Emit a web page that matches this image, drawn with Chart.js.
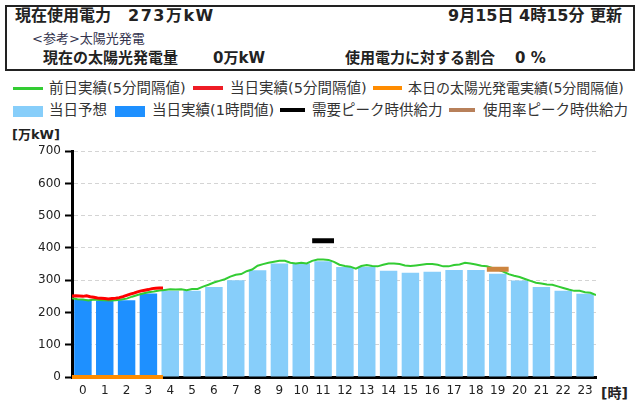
<!DOCTYPE html>
<html lang="ja">
<head>
<meta charset="UTF-8">
<title>電力使用状況</title>
<script src="https://cdn.jsdelivr.net/npm/chart.js"></script>
<style>
  body { margin:0; width:640px; height:420px; position:relative; background:#fff; overflow:hidden;
         font-family:"DejaVu Sans","Noto Sans CJK JP",sans-serif; color:#222; }
  .t { position:absolute; white-space:nowrap; }
  #box { position:absolute; left:5px; top:5px; width:626px; height:62px; border:2px solid #222; }
  .big { font-size:16px; line-height:16px; font-weight:bold; }
  .mid { font-size:15px; line-height:15px; font-weight:bold; }
  .small { font-size:13px; line-height:13px; color:#33334d; }
  .lg { font-size:14.5px; line-height:15px; color:#333; }
  .sw { position:absolute; }
  #chartBox { position:absolute; left:0; top:140px; width:640px; height:262px; }
</style>
</head>
<body>
<div id="box"></div>
<span class="t big" style="left:15px;top:8px">現在使用電力</span>
<span class="t big" style="left:128px;top:8px;letter-spacing:1.5px">273万kW</span>
<span class="t big" style="right:18px;top:8px">9月15日&nbsp;4時15分&nbsp;更新</span>
<span class="t small" style="left:32px;top:32px">&lt;参考&gt;太陽光発電</span>
<span class="t mid" style="left:43px;top:51px">現在の太陽光発電量</span>
<span class="t mid" style="left:213px;top:51px">0万kW</span>
<span class="t mid" style="left:345px;top:51px">使用電力に対する割合</span>
<span class="t mid" style="left:515px;top:51px">0 %</span>

<!-- 凡例 -->
<div class="sw" style="left:13px;top:87px;width:30px;height:3px;background:#33cc33"></div>
<span class="t lg" style="left:49px;top:81px">前日実績(5分間隔値)</span>
<div class="sw" style="left:193px;top:86px;width:30px;height:4px;background:#ee1c25"></div>
<span class="t lg" style="left:230px;top:81px">当日実績(5分間隔値)</span>
<div class="sw" style="left:373px;top:86px;width:29px;height:4px;background:#ff8c00"></div>
<span class="t lg" style="left:408px;top:81px;font-size:14px">本日の太陽光発電実績(5分間隔値)</span>

<div class="sw" style="left:13px;top:106px;width:30px;height:11px;background:#87cefa"></div>
<span class="t lg" style="left:49px;top:103px">当日予想</span>
<div class="sw" style="left:115px;top:106px;width:30px;height:11px;background:#1e90ff"></div>
<span class="t lg" style="left:152px;top:103px">当日実績(1時間値)</span>
<div class="sw" style="left:280px;top:108px;width:25px;height:4px;background:#000"></div>
<span class="t lg" style="left:312px;top:103px">需要ピーク時供給力</span>
<div class="sw" style="left:449px;top:108px;width:26px;height:4px;background:#b8805a"></div>
<span class="t lg" style="left:483px;top:103px">使用率ピーク時供給力</span>

<span class="t" style="left:12px;top:124px;font-size:13px;font-weight:bold">[万kW]</span>
<span class="t" style="left:601px;top:382px;font-size:14px;font-weight:bold">[時]</span>

<div id="chartBox"><canvas id="grafico" width="640" height="262"></canvas></div>

<script>
// 時間帯 (横軸)
const horas = ['0','1','2','3','4','5','6','7','8','9','10','11',
               '12','13','14','15','16','17','18','19','20','21','22','23'];

// 当日予想 (1時間値, 万kW)
const previsao = [null, null, null, null, 267, 267, 279, 300, 331, 352, 352, 359,
                  341, 342, 329, 323, 326, 332, 332, 320, 299, 279, 267, 258];

// 当日実績 (1時間値)
const realHora = [240, 236, 238, 259];

// 前日実績 (15分ごとに読み取り, 0:00〜24:00)
const passoAnterior = 0.25;
const diaAnterior = [
  244, 241, 240, 237, 240, 239, 238, 237, 238, 240, 243, 249,
  254, 259, 263, 265, 268, 270, 272, 271, 272, 269, 273, 273,
  280, 286, 293, 298, 303, 311, 317, 319, 328, 333, 345, 350,
  354, 357, 360, 360, 354, 352, 354, 352, 360, 364, 364, 363,
  357, 348, 344, 342, 336, 344, 347, 344, 343, 348, 352, 352,
  350, 346, 344, 346, 348, 350, 350, 348, 343, 343, 347, 349,
  354, 352, 349, 345, 343, 338, 333, 327, 319, 314, 310, 304,
  298, 292, 290, 287, 286, 281, 276, 271, 267, 267, 263, 261,
  254
];

// 当日実績 (10分ごとに読み取り, 0:00〜4:10)
const passoHoje = 1 / 6;
const hoje = [251, 252, 251, 250, 252, 249, 247, 245, 244, 243, 242, 243,
              244, 246, 249, 253, 257, 260, 264, 267, 269, 271, 274, 275,
              276, 276];

// 本日の太陽光発電実績
const solar = [0, 0, 0, 0, 0, 0, 0, 0, 0, 0, 0, 0, 0,
               0, 0, 0, 0, 0, 0, 0, 0, 0, 0, 0, 0, 0];

// ピーク時供給力
const picoDemandaHora = 11;
const picoDemandaValor = 422;
const picoTaxaHora = 19;
const picoTaxaValor = 334;

function serie(valores, passo) {
  return valores.map((v, i) => ({ x: i * passo, y: v }));
}
function marca(hora, valor) {
  return [{ x: hora, y: valor }, { x: hora + 1, y: valor }];
}

Chart.defaults.font.family = '"DejaVu Sans", "Noto Sans CJK JP", sans-serif';
Chart.defaults.color = '#222';

const ctx = document.getElementById('grafico').getContext('2d');
new Chart(ctx, {
  type: 'bar',
  data: {
    labels: horas,
    datasets: [
      { type: 'line', label: '需要ピーク時供給力', xAxisID: 'xt',
        data: marca(picoDemandaHora, picoDemandaValor),
        borderColor: '#000', borderWidth: 5, borderCapStyle: 'butt',
        pointRadius: 0, order: 0 },
      { type: 'line', label: '使用率ピーク時供給力', xAxisID: 'xt',
        data: marca(picoTaxaHora, picoTaxaValor),
        borderColor: '#cd853f', borderWidth: 5, borderCapStyle: 'butt',
        pointRadius: 0, order: 0 },
      { type: 'line', label: '本日の太陽光発電実績(5分間隔値)', xAxisID: 'xt',
        data: serie(solar, passoHoje),
        borderColor: '#ff8c00', borderWidth: 4, borderCapStyle: 'butt',
        pointRadius: 0, clip: false, order: 1 },
      { type: 'line', label: '当日実績(5分間隔値)', xAxisID: 'xt',
        data: serie(hoje, passoHoje),
        borderColor: '#ff0000', borderWidth: 3,
        pointRadius: 0, order: 2 },
      { type: 'line', label: '前日実績(5分間隔値)', xAxisID: 'xt',
        data: serie(diaAnterior, passoAnterior),
        borderColor: '#33cc33', borderWidth: 2,
        pointRadius: 0, order: 3 },
      { label: '当日実績(1時間値)', data: realHora,
        backgroundColor: '#1e90ff', order: 5 },
      { label: '当日予想', data: previsao,
        backgroundColor: '#87cefa', order: 6 }
    ]
  },
  options: {
    responsive: false,
    animation: false,
    events: [],
    layout: { padding: { top: 9, right: 44, left: 0, bottom: 0 } },
    datasets: {
      bar: { grouped: false, barPercentage: 0.8, categoryPercentage: 1 }
    },
    plugins: {
      legend: { display: false },
      tooltip: { enabled: false }
    },
    scales: {
      x: {
        type: 'category',
        offset: true,
        grid: { display: false, drawTicks: false },
        border: { display: true, color: '#000', width: 3 },
        ticks: { font: { size: 12 }, padding: 7, maxRotation: 0, autoSkip: false },
        afterFit: s => { s.height = 25; }
      },
      // 線グラフ用の時刻軸 (表示しない)
      xt: {
        type: 'linear', position: 'bottom', min: 0, max: 24, offset: false,
        grid: { display: false, drawTicks: false },
        border: { display: false },
        ticks: { display: false },
        afterFit: s => { s.height = 0; }
      },
      y: {
        min: 0, max: 700,
        ticks: {
          stepSize: 50, font: { size: 12 }, padding: 4,
          callback: v => (v % 100 === 0 ? v : '')
        },
        grid: { color: '#d4d4d4', lineWidth: 1, tickColor: '#000',
                tickLength: 7, tickWidth: 2 },
        border: { display: true, color: '#000', width: 3, dash: [4, 3] },
        afterFit: s => { s.width = 72; }
      }
    }
  }
});
</script>
</body>
</html>
